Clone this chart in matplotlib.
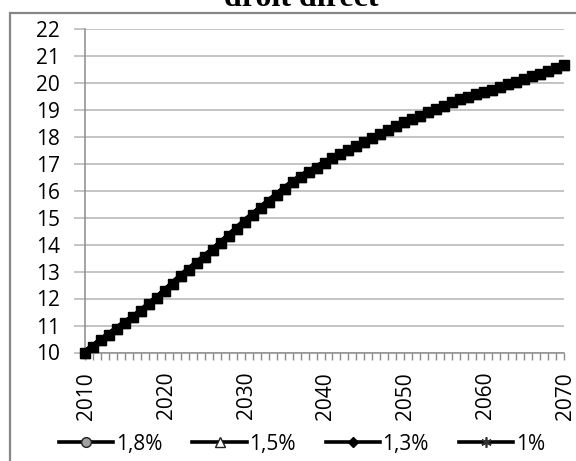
import matplotlib
matplotlib.use("Agg")
import matplotlib.pyplot as plt
from matplotlib.patches import Rectangle
from matplotlib.lines import Line2D
from matplotlib import transforms

years = list(range(2010, 2071))
values_18 = [10.00, 10.22, 10.45, 10.66, 10.88, 11.10, 11.30, 11.52, 11.78, 12.02,
             12.28, 12.55, 12.82, 13.07, 13.30, 13.55, 13.80, 14.05, 14.32, 14.58,
             14.85, 15.10, 15.34, 15.59, 15.83, 16.07, 16.30, 16.50, 16.68, 16.85,
             17.02, 17.19, 17.35, 17.50, 17.65, 17.80, 17.95, 18.10, 18.25, 18.40,
             18.53, 18.65, 18.77, 18.90, 19.02, 19.14, 19.26, 19.38, 19.48, 19.57,
             19.65, 19.74, 19.84, 19.93, 20.03, 20.13, 20.23, 20.33, 20.43, 20.54,
             20.65]
values_15 = list(values_18)
values_13 = list(values_18)
values_10 = list(values_18)
series_labels = ["1,8%", "1,5%", "1,3%", "1%"]
yticks = list(range(10, 23))
xtick_labels = [2010, 2020, 2030, 2040, 2050, 2060, 2070]

FONT = "Open Sans"
FS = 15
W, H = 576, 461
fig = plt.figure(figsize=(W / 100, H / 100), dpi=100)

# chart frame border
fig.patches.append(Rectangle((10 / W, -0.2), 1.5, 1.2 - 13 / H, transform=fig.transFigure,
                             fill=False, edgecolor="#868686", linewidth=1.6))

fig.text(301 / W, 1 - 6 / H, "droit direct", ha="center", va="baseline",
         fontsize=23, fontweight="bold", family="Liberation Serif")

ax = fig.add_axes([85 / W, 1 - 352.5 / H, (564 - 85) / W, (352.5 - 28.5) / H])

styles = [
    dict(marker="o", markersize=7, markerfacecolor="#a0a0a0", markeredgecolor="#202020"),
    dict(marker="^", markersize=7, markerfacecolor="white", markeredgecolor="#202020"),
    dict(marker="D", markersize=5.5, markerfacecolor="black", markeredgecolor="black"),
    dict(marker=(6, 2, 0), markersize=7.5, markeredgecolor="#303030", markeredgewidth=1.2),
]
all_vals = [values_18, values_15, values_13, values_10]
for vals, lab, st in zip(all_vals, series_labels, styles):
    ax.plot(years, vals, color="black", linewidth=4.5, label=lab, clip_on=False, **st)
# dense black band like the original (markers overlapping)
ax.plot(years, values_10, color="black", linewidth=0, marker="s", markersize=7,
        clip_on=False, zorder=5)

ax.set_xlim(2010, 2070)
ax.set_ylim(10, 22)
ax.set_yticks(yticks)
ax.set_xticks(xtick_labels)
ax.set_xticks(years, minor=True)
ax.grid(axis="y", color="#b4b4b4", linewidth=1.1)
ax.set_axisbelow(True)
for s in ["top", "right"]:
    ax.spines[s].set_visible(False)
for s in ["left", "bottom"]:
    ax.spines[s].set_color("#8c8c8c")
    ax.spines[s].set_linewidth(1.1)
ax.tick_params(axis="y", length=8, color="#b4b4b4", width=1.1, pad=10,
               labelsize=FS)
ax.tick_params(axis="x", which="both", length=5, color="#8c8c8c", width=1.0, pad=9,
               labelsize=FS, labelrotation=90)
ax.set_xticklabels([str(v) for v in xtick_labels], family=FONT)
ax.set_yticklabels([str(v) for v in yticks], family=FONT)
offset = transforms.ScaledTranslation(1.5 / 100, 0, fig.dpi_scale_trans)
for lbl in ax.get_xticklabels():
    lbl.set_transform(lbl.get_transform() + offset)

handles = []
for lab, st in zip(series_labels, styles):
    handles.append(Line2D([], [], color="black", linewidth=2.6, **st))
leg = fig.legend(handles, series_labels, loc="center", bbox_to_anchor=(302 / W, 1 - 444 / H),
                 ncol=4, frameon=False, prop={"family": FONT, "size": FS},
                 handlelength=2.6, handletextpad=0.12, columnspacing=1.45,
                 borderaxespad=0, borderpad=0)

fig.savefig("out.png", dpi=100)
